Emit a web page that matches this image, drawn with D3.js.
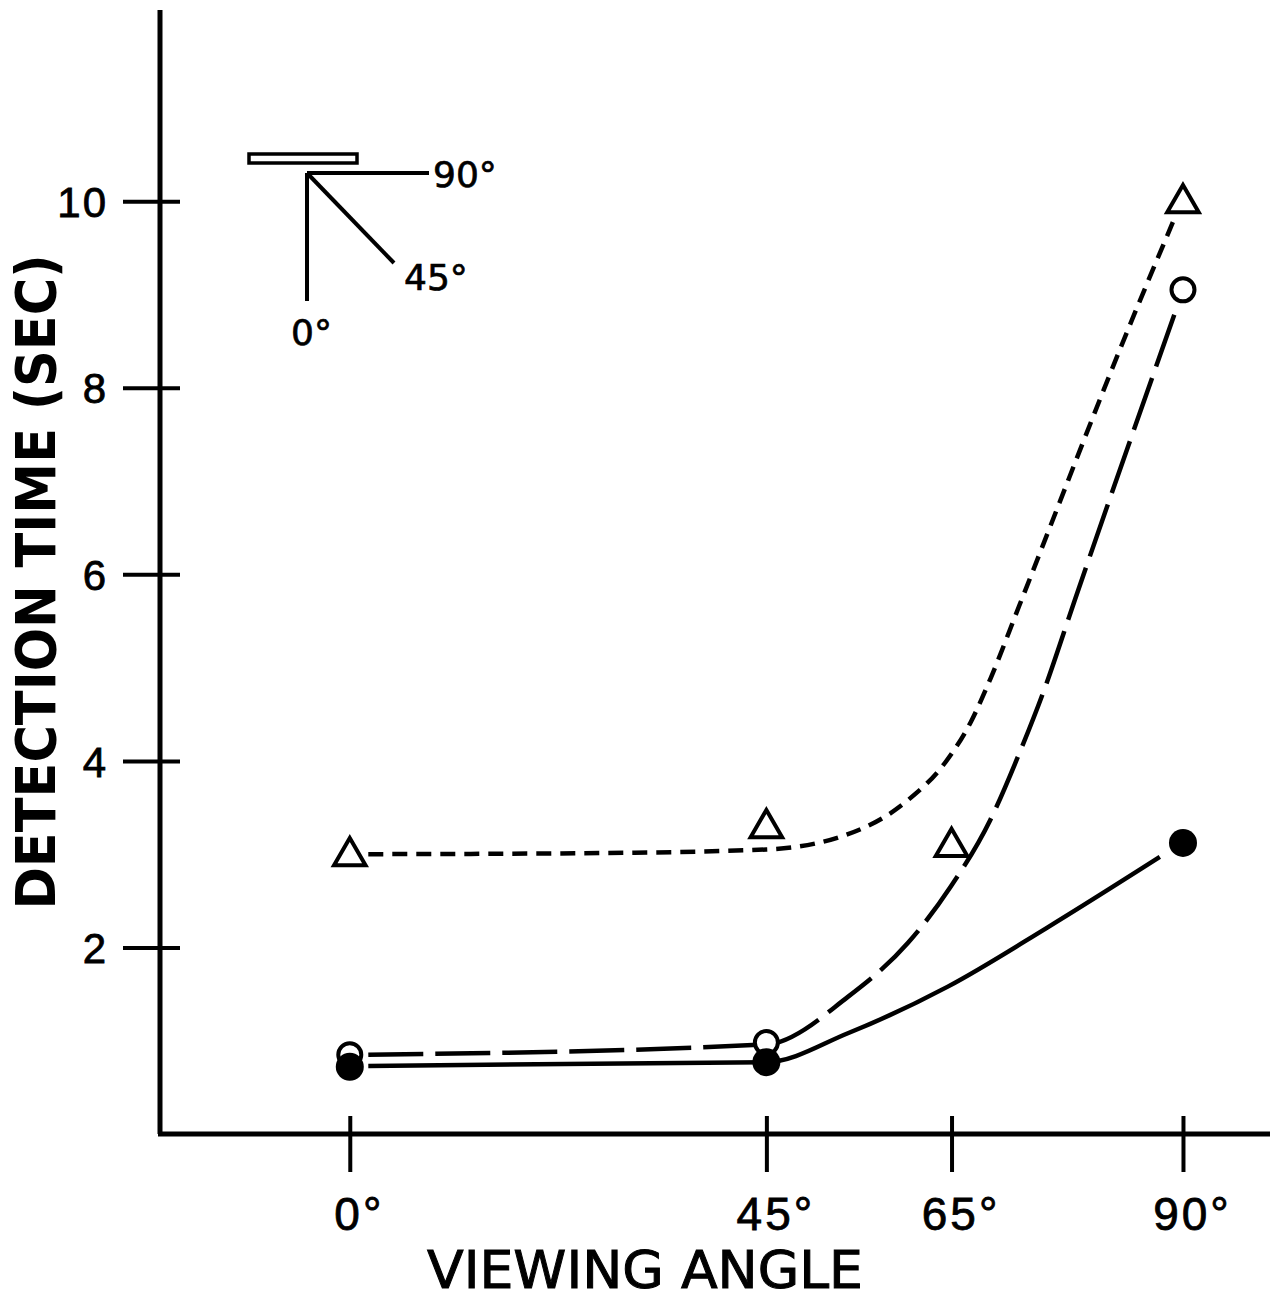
<!DOCTYPE html>
<html>
<head>
<meta charset="utf-8">
<script src="https://cdn.jsdelivr.net/npm/d3@7"></script>
<style>
  body { margin: 0; background: #fff; }
  svg { display: block; font-family: "DejaVu Sans", sans-serif; }
</style>
</head>
<body>
<script>
// gemeten waarden uit de figuur
const tickAngles = [0, 45, 65, 90];
const tickTimes = [2, 4, 6, 8, 10];

const triangleAngles = [0, 45, 65, 90];
const triangleTimes = [3.0, 3.3, 3.1, 10.0];

const openAngles = [0, 45, 90];
const openTimes = [0.85, 0.98, 9.05];

const filledAngles = [0, 45, 90];
const filledTimes = [0.72, 0.77, 3.12];

// getekende (gefitte) krommen
const triangleFitAngles = [2, 25, 45, 55.7, 60.3, 64.3, 67.1, 69.2, 72.3, 84.5, 89.1];
const triangleFitTimes = [3.0, 3.01, 3.05, 3.29, 3.58, 3.98, 4.42, 4.88, 5.66, 8.73, 9.82];

const openFitAngles = [2, 45, 53.8, 60.3, 64.9, 69.2, 72.4, 75.0, 78.3, 89.3];
const openFitTimes = [0.85, 0.96, 1.47, 2.05, 2.65, 3.37, 4.1, 4.76, 5.72, 8.85];

const filledFitAngles = [2, 45, 53.8, 64.6, 75.3, 87.5];
const filledFitTimes = [0.73, 0.77, 1.08, 1.58, 2.21, 2.97];

const W = 1282, H = 1300;
const svg = d3.select('body').append('svg').attr('width', W).attr('height', H);

const x = d3.scaleLinear().domain([-20.5, 99.4]).range([160, 1270]);
const y = d3.scaleLinear().domain([0, 12.05]).range([1134, 10]);

// assen
const xAxis = d3.axisBottom(x).tickValues(tickAngles).tickSizeOuter(0).tickSizeInner(38)
  .tickFormat(d => d + '°');
const gx = svg.append('g').attr('transform', `translate(0,${y(0)})`).call(xAxis);
gx.select('.domain').attr('stroke-width', 5).attr('d', `M${x.range()[0] - 2},0H${x.range()[1]}`);
gx.selectAll('.tick line').attr('y1', -18).attr('stroke-width', 4);
gx.selectAll('.tick text').attr('y', 96).attr('dy', 0).attr('dx', 9)
  .attr('font-size', 46).attr('letter-spacing', 3)
  .attr('fill', '#000').attr('stroke', '#000').attr('stroke-width', 0.8);

const yAxis = d3.axisLeft(y).tickValues(tickTimes).tickSizeOuter(0).tickSizeInner(37);
const gy = svg.append('g').attr('transform', `translate(${x.range()[0]},0)`).call(yAxis);
gy.select('.domain').attr('stroke-width', 5).attr('d', `M0,${y.range()[1]}V${y.range()[0]}`);
gy.selectAll('.tick line').attr('x1', 20).attr('stroke-width', 4);
gy.selectAll('.tick text').attr('x', -52).attr('dy', '0.36em')
  .attr('font-size', 42).attr('letter-spacing', 2)
  .attr('fill', '#000').attr('stroke', '#000').attr('stroke-width', 0.8);

// aslabels
svg.append('text')
  .attr('transform', `translate(55,${582}) rotate(-90)`)
  .attr('text-anchor', 'middle')
  .attr('font-size', 56).attr('font-weight', 'bold')
  .attr('textLength', 655).attr('lengthAdjust', 'spacingAndGlyphs')
  .text('DETECTION TIME (SEC)');

svg.append('text')
  .attr('x', 645).attr('y', 1288)
  .attr('text-anchor', 'middle')
  .attr('font-size', 52)
  .attr('stroke', '#000').attr('stroke-width', 1.0)
  .attr('textLength', 436).attr('lengthAdjust', 'spacingAndGlyphs')
  .text('VIEWING ANGLE');

// krommen
const line = d3.line().x(d => x(d[0])).y(d => y(d[1])).curve(d3.curveMonotoneX);

svg.append('path')
  .attr('d', line(d3.zip(triangleFitAngles, triangleFitTimes)))
  .attr('fill', 'none').attr('stroke', '#000').attr('stroke-width', 4.5)
  .attr('stroke-dasharray', '15,9');

svg.append('path')
  .attr('d', line(d3.zip(openFitAngles, openFitTimes)))
  .attr('fill', 'none').attr('stroke', '#000').attr('stroke-width', 4.5)
  .attr('stroke-dasharray', '55,12');

svg.append('path')
  .attr('d', line(d3.zip(filledFitAngles, filledFitTimes)))
  .attr('fill', 'none').attr('stroke', '#000').attr('stroke-width', 4.5);

// markers
const tri = d3.symbol().type(d3.symbolTriangle).size(430);
svg.selectAll('.tri').data(d3.zip(triangleAngles, triangleTimes)).join('path')
  .attr('class', 'tri')
  .attr('transform', d => `translate(${x(d[0])},${y(d[1]) + 2})`)
  .attr('d', tri)
  .attr('fill', '#fff').attr('stroke', '#000').attr('stroke-width', 4);

svg.selectAll('.open').data(d3.zip(openAngles, openTimes)).join('circle')
  .attr('class', 'open')
  .attr('cx', d => x(d[0])).attr('cy', d => y(d[1])).attr('r', 11.5)
  .attr('fill', '#fff').attr('stroke', '#000').attr('stroke-width', 4);

svg.selectAll('.filled').data(d3.zip(filledAngles, filledTimes)).join('circle')
  .attr('class', 'filled')
  .attr('cx', d => x(d[0])).attr('cy', d => y(d[1])).attr('r', 14)
  .attr('fill', '#000');

// schets van de kijkhoeken linksboven
const inset = svg.append('g').attr('transform', 'translate(307,173)');
inset.append('rect').attr('x', -58).attr('y', -19).attr('width', 108).attr('height', 9)
  .attr('fill', '#fff').attr('stroke', '#000').attr('stroke-width', 3.5);
inset.append('line').attr('x1', 0).attr('y1', 0).attr('x2', 122).attr('y2', 0)
  .attr('stroke', '#000').attr('stroke-width', 4);
inset.append('line').attr('x1', 0).attr('y1', 0).attr('x2', 0).attr('y2', 128)
  .attr('stroke', '#000').attr('stroke-width', 4);
inset.append('line').attr('x1', 0).attr('y1', 0).attr('x2', 87).attr('y2', 90)
  .attr('stroke', '#000').attr('stroke-width', 4);
inset.selectAll('.lbl').data([['90°', 126, 14], ['45°', 97, 117], ['0°', -16, 172]]).join('text')
  .attr('x', d => d[1]).attr('y', d => d[2])
  .attr('font-size', 36).attr('stroke', '#000').attr('stroke-width', 0.7)
  .text(d => d[0]);
</script>
</body>
</html>
